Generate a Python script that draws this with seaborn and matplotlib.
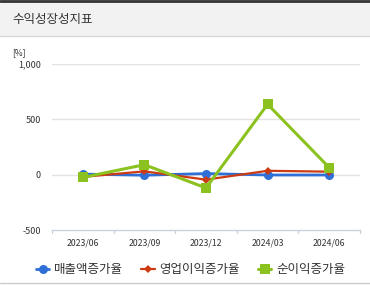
import matplotlib
matplotlib.use("Agg")
import matplotlib.pyplot as plt
from matplotlib.lines import Line2D
from matplotlib.patches import Rectangle
import seaborn as sb
import pandas as pd

# Data
quarters = ["2023/06", "2023/09", "2023/12", "2024/03", "2024/06"]
sales_growth = [5, -5, 10, -3, -3]
op_growth = [-20, 30, -45, 35, 27]
net_growth = [-25, 90, -120, 636, 64]
series_names = ["매출액증가율", "영업이익증가율", "순이익증가율"]
y_ticks = [-500, 0, 500, 1000]
y_tick_labels = ["-500", "0", "500", "1,000"]

df = pd.DataFrame({
    "quarter": quarters * 3,
    "value": sales_growth + op_growth + net_growth,
    "series": [series_names[0]] * 5 + [series_names[1]] * 5 + [series_names[2]] * 5,
})

sb.set_style("white")
plt.rcParams["font.family"] = ["Noto Sans CJK KR", "DejaVu Sans"]

colors = {series_names[0]: "#2f6fd6", series_names[1]: "#cc3b12", series_names[2]: "#8bc21f"}
markers = {series_names[0]: "o", series_names[1]: "D", series_names[2]: "s"}
widths = {series_names[0]: 2.0, series_names[1]: 1.6, series_names[2]: 2.2}
msizes = {series_names[0]: 6.5, series_names[1]: 4.5, series_names[2]: 6.5}

fig = plt.figure(figsize=(3.7, 2.85), dpi=100)

# Header band
fig.add_artist(Rectangle((0, 1 - 36 / 285), 1, 34 / 285, transform=fig.transFigure,
                         facecolor="#f2f2f2", edgecolor="none"))
fig.add_artist(Line2D([0, 1], [1 - 1 / 285, 1 - 1 / 285], transform=fig.transFigure,
                      color="#333333", lw=2))
fig.add_artist(Line2D([0, 1], [1 - 36 / 285, 1 - 36 / 285], transform=fig.transFigure,
                      color="#d8d8d8", lw=1))
fig.add_artist(Line2D([0, 1], [1 - 283 / 285, 1 - 283 / 285], transform=fig.transFigure,
                      color="#cccccc", lw=1))
fig.text(12 / 370, 1 - 19 / 285, "수익성장성지표", fontsize=9, color="#333333", va="center")
fig.text(12 / 370, 1 - 53 / 285, "[%]", fontsize=6, color="#333333", va="center")

ax = fig.add_axes([52 / 370, 1 - 230 / 285, 308 / 370, 166 / 285])

for name in series_names:
    sub = df[df.series == name]
    sb.lineplot(data=sub, x="quarter", y="value", ax=ax, color=colors[name], lw=widths[name],
                marker=markers[name], markersize=msizes[name], markeredgewidth=0,
                sort=False, label=name, legend=False)

ax.set_xlim(-0.5, 4.5)
ax.set_ylim(-500, 1000)
ax.set_yticks(y_ticks)
ax.set_yticklabels(y_tick_labels)
ax.set_xticks(range(len(quarters)))
ax.set_xticklabels(quarters)
ax.set_xlabel("")
ax.set_ylabel("")
for y in [0, 500, 1000]:
    ax.axhline(y, color="#e3e3e3", lw=1, zorder=0)
for s in ["top", "right", "left"]:
    ax.spines[s].set_visible(False)
ax.spines["bottom"].set_color("#c9d2de")
ax.spines["bottom"].set_linewidth(1)
ax.tick_params(axis="y", length=0, labelsize=6.5, labelcolor="#333333", pad=8)
ax.tick_params(axis="x", length=0, labelsize=6.3, labelcolor="#333333", pad=6)
# Category boundary ticks
for xb in [-0.5, 0.5, 1.5, 2.5, 3.5, 4.5]:
    ax.plot([xb, xb], [-500, -530], color="#c9d2de", lw=1, clip_on=False)

handles = [Line2D([0], [0], color=colors[n], lw=widths[n], marker=markers[n],
                  markersize=msizes[n], markeredgewidth=0) for n in series_names]
fig.legend(handles, series_names, loc="center", bbox_to_anchor=(0.515, 1 - 270 / 285),
           ncol=3, frameon=False, fontsize=9, handlelength=1.1, handletextpad=0.4,
           columnspacing=1.4, labelcolor="#333333")

fig.savefig("out.png", dpi=100)
